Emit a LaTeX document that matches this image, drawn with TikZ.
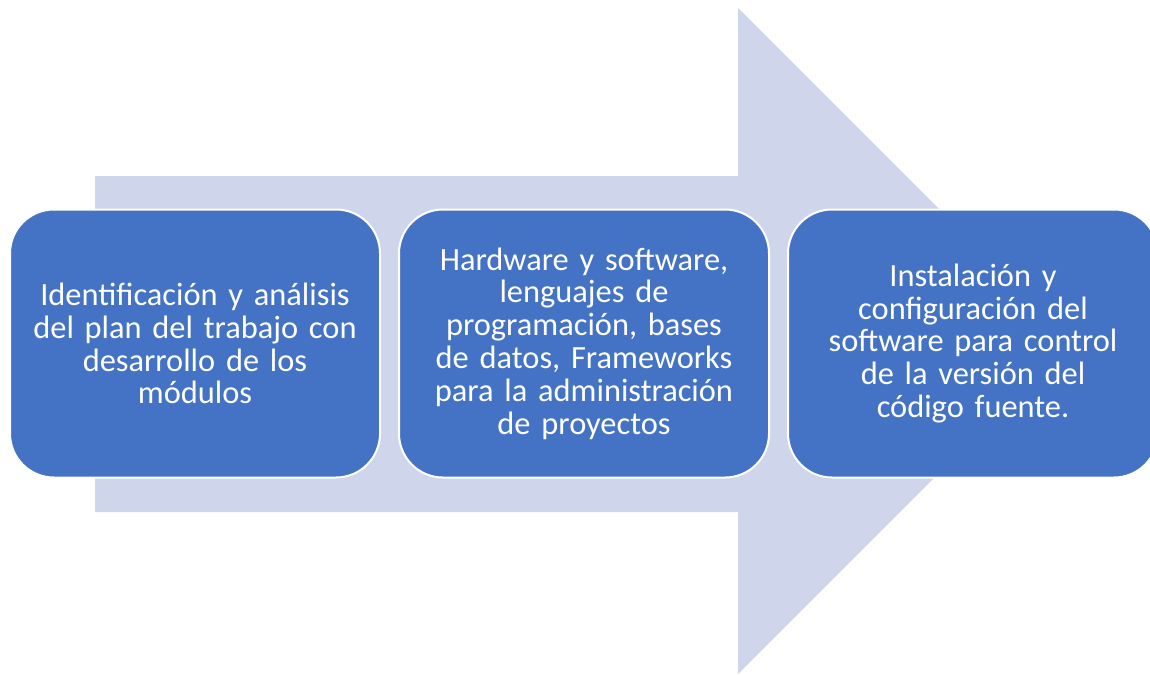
\documentclass[tikz,border=0pt]{standalone}
\usepackage{fontspec}
\setmainfont{Carlito}
\definecolor{arrowfill}{HTML}{CFD5EA}
\definecolor{stepfill}{HTML}{4472C4}
\tikzset{
  stepbox/.style={draw=white, line width=1pt, fill=stepfill,
    rounded corners=22pt, minimum width=185pt, minimum height=134pt,
    text width=172pt, align=center, text=white,
    font=\fontsize{16.2}{16.4}\selectfont},
}

\begin{document}
\begin{tikzpicture}[
  x=0.5pt,
  y=-0.5pt,
]
\useasboundingbox (0,0) rectangle (1150,674);

% big arrow behind the steps
\fill [arrowfill] (95,176) -- (738,176) -- (738,8) -- (1071,341)
      -- (738,674) -- (738,512) -- (95,512) -- cycle;

\foreach [count=\i] \x/\t in
                  {195/{Identificación y análisis\\ del plan del trabajo con\\ desarrollo de los\\ módulos},
                   584/{Hardware y software,\\ lenguajes de\\ programación, bases\\ de datos, Frameworks\\ para la administración\\ de proyectos},
                   973/{Instalación y\\ configuración del\\ software para control\\ de la versión del\\ código fuente.}
                   }
  {
   \node [stepbox, name=step-\i] at (\x,343.5) {\t};
  }

\end{tikzpicture}
\end{document}
